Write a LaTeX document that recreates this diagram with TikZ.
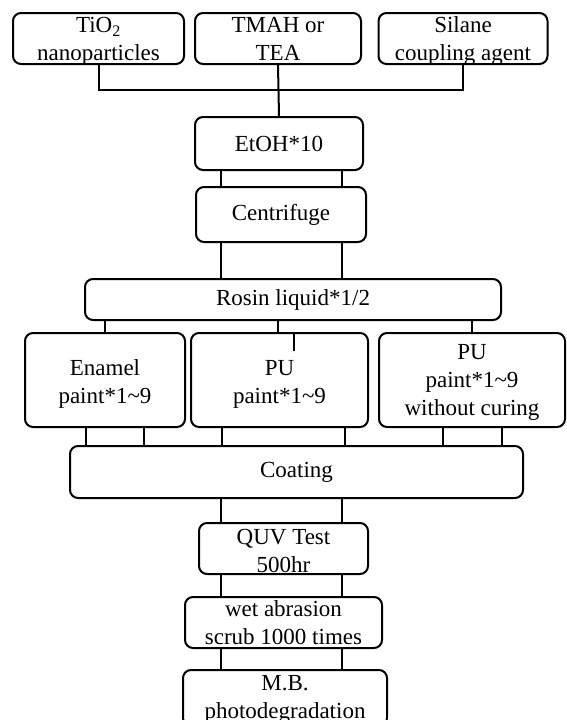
\documentclass[tikz,border=0pt]{standalone}
\usepackage{fontspec}
\setmainfont{Liberation Serif}
\begin{document}
\begin{tikzpicture}[x=1pt, y=-1pt, line width=2pt,
  stepbox/.style={draw, rounded corners=8pt, align=center, inner sep=0pt,
    font=\fontsize{23}{28}\selectfont},
  lowered/.style={text height=#1, text depth=0pt}]
\useasboundingbox (0,0) rectangle (566,720);
\clip (0,0) rectangle (566,720);
\node[stepbox, lowered=44pt, minimum width=171pt, minimum height=51pt] (tio2) at (98.5,38.5){TiO\textsubscript{2}\\nanoparticles};
\node[stepbox, lowered=44pt, minimum width=166pt, minimum height=51pt] (tmah) at (278,38.5){TMAH or\\TEA};
\node[stepbox, lowered=44pt, minimum width=169pt, minimum height=51pt] (sil) at (463,38.5){Silane\\coupling agent};
\coordinate (join) at (278,90);
\node[stepbox, minimum width=168pt, minimum height=53pt] (etoh) at (279,143.5){EtOH*10};
\node[stepbox, minimum width=170pt, minimum height=55pt] (cent) at (281,214.5){Centrifuge};
\node[stepbox, minimum width=416pt, minimum height=41pt] (rosin) at (293,299.5){Rosin liquid*1/2};
\node[stepbox, lowered=47pt, minimum width=160pt, minimum height=94pt] (enamel) at (105,380){Enamel\\paint*1\textasciitilde9};
\node[stepbox, lowered=47pt, minimum width=177pt, minimum height=94pt] (pu) at (279.5,380){PU\\paint*1\textasciitilde9};
\node[stepbox, lowered=71pt, minimum width=186pt, minimum height=94pt] (puwo) at (472,380){PU\\paint*1\textasciitilde9\\without curing};
\node[stepbox, minimum width=453pt, minimum height=52pt] (coat) at (296.5,472){Coating};
\node[stepbox, lowered=48pt, minimum width=169pt, minimum height=51pt] (quv) at (283.5,548.5){QUV Test\\500hr};
\node[stepbox, lowered=43pt, minimum width=197pt, minimum height=51pt] (wet) at (283.5,622.5){wet abrasion\\scrub 1000 times};
\node[stepbox, lowered=41pt, minimum width=204pt, minimum height=56pt] (mb) at (285,698){M.B.\\photodegradation};
\draw[](tio2.south) |- (join) -| (sil.south);
\draw[](tmah.south) -- (etoh.north);
\draw[](etoh.south -| 221,0) -- (cent.north -| 221,0);
\draw[](etoh.south -| 342,0) -- (cent.north -| 342,0);
\draw[](cent.south -| 221,0) -- (rosin.north -| 221,0);
\draw[](cent.south -| 342,0) -- (rosin.north -| 342,0);
\draw[](rosin.south -| enamel) -- (enamel.north);
\draw[](rosin.south -| 278,0) -- (pu.north -| 278,0);
\draw[](pu.north -| 294,0) -- ++(0,19);
\draw[](rosin.south -| puwo) -- (puwo.north);
\draw[](enamel.south -| 86,0) -- (coat.north -| 86,0);
\draw[](enamel.south -| 144,0) -- (coat.north -| 144,0);
\draw[](pu.south -| 222,0) -- (coat.north -| 222,0);
\draw[](pu.south -| 345,0) -- (coat.north -| 345,0);
\draw[](puwo.south -| 443,0) -- (coat.north -| 443,0);
\draw[](puwo.south -| 502,0) -- (coat.north -| 502,0);
\draw[](coat.south -| 221,0) -- (quv.north -| 221,0);
\draw[](coat.south -| 342,0) -- (quv.north -| 342,0);
\draw[](quv.south -| 221,0) -- (wet.north -| 221,0);
\draw[](quv.south -| 342,0) -- (wet.north -| 342,0);
\draw[](wet.south -| 221,0) -- (mb.north -| 221,0);
\draw[](wet.south -| 342,0) -- (mb.north -| 342,0);
\end{tikzpicture}
\end{document}
